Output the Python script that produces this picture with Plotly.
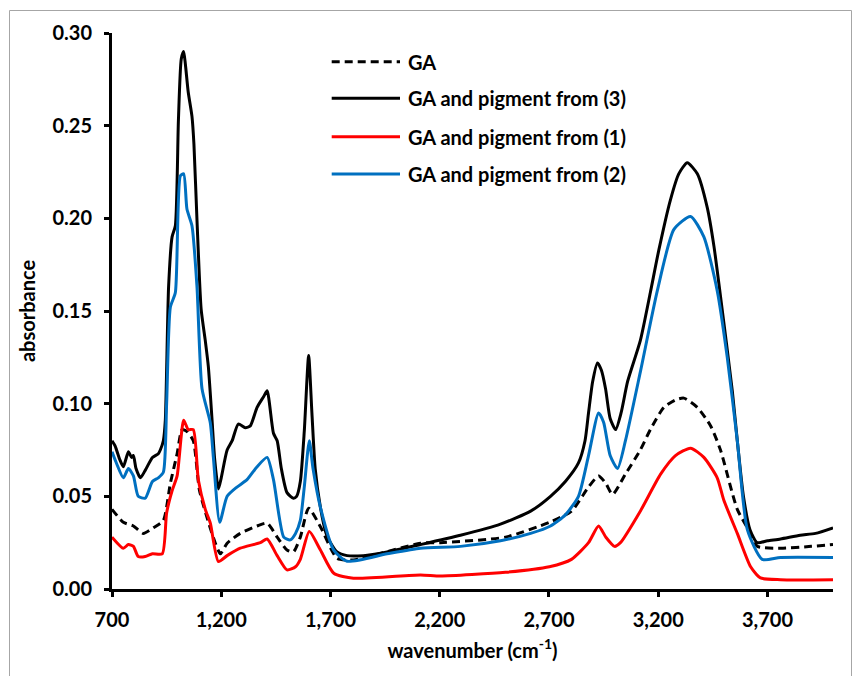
import plotly.graph_objects as go

# ---- data (wavenumber in cm-1, absorbance) ----
ga_x = [700, 752, 798, 843, 889, 935, 967, 998, 1021, 1043, 1072, 1100, 1139, 1173, 1196,
        1227, 1287, 1364, 1410, 1456, 1501, 1530, 1562, 1600, 1654, 1730, 1805, 2112, 2203,
        2501, 2702, 2803, 2881, 2927, 2960, 2991, 3050, 3118, 3164, 3226, 3279, 3317, 3379,
        3440, 3485, 3562, 3623, 3653, 3760, 3900, 4000]
ga_y = [0.043, 0.036, 0.034, 0.030, 0.033, 0.037, 0.057, 0.073, 0.086, 0.085, 0.080, 0.0535,
        0.037, 0.0247, 0.019, 0.0247, 0.030, 0.034, 0.0355, 0.028, 0.021, 0.020, 0.028, 0.0436,
        0.0336, 0.0166, 0.0157, 0.0247, 0.025, 0.028, 0.036, 0.042, 0.055, 0.061, 0.057, 0.051,
        0.062, 0.075, 0.086, 0.098, 0.102, 0.103, 0.098, 0.088, 0.075, 0.043, 0.030, 0.023,
        0.022, 0.023, 0.024]

p3_x = [700, 715, 735, 752, 775, 790, 798, 810, 830, 852, 885, 912, 921, 935, 944, 959, 975,
        990, 1004, 1017, 1028, 1036, 1049, 1066, 1075, 1089, 1108, 1127, 1141, 1158, 1170,
        1187, 1200, 1227, 1250, 1278, 1310, 1333, 1364, 1395, 1410, 1439, 1456, 1475, 1501,
        1530, 1545, 1562, 1580, 1600, 1615, 1630, 1654, 1680, 1700, 1730, 1776, 1850, 1959,
        2112, 2295, 2478, 2616, 2707, 2775, 2835, 2865, 2881, 2900, 2922, 2940, 2959, 2980,
        3005, 3030, 3060, 3118, 3164, 3203, 3256, 3294, 3333, 3379, 3424, 3455, 3485, 3539,
        3562, 3590, 3620, 3653, 3700, 3760, 3850, 3920, 4000]
p3_y = [0.080, 0.077, 0.070, 0.066, 0.074, 0.071, 0.072, 0.065, 0.060, 0.064, 0.071, 0.073,
        0.075, 0.080, 0.091, 0.163, 0.190, 0.196, 0.253, 0.286, 0.290, 0.283, 0.268, 0.255,
        0.240, 0.199, 0.151, 0.134, 0.120, 0.091, 0.070, 0.054, 0.060, 0.075, 0.080, 0.089,
        0.087, 0.088, 0.098, 0.104, 0.107, 0.084, 0.080, 0.065, 0.052, 0.049, 0.050, 0.058,
        0.085, 0.126, 0.095, 0.065, 0.044, 0.030, 0.025, 0.020, 0.018, 0.018, 0.020, 0.024,
        0.029, 0.035, 0.042, 0.050, 0.058, 0.068, 0.080, 0.095, 0.112, 0.122, 0.118, 0.108,
        0.092, 0.086, 0.095, 0.112, 0.134, 0.160, 0.183, 0.210, 0.224, 0.230, 0.224, 0.206,
        0.185, 0.158, 0.107, 0.080, 0.050, 0.032, 0.025, 0.026, 0.027, 0.029, 0.030, 0.033]

p1_x = [700, 752, 775, 798, 820, 852, 885, 930, 950, 975, 998, 1028, 1049, 1072, 1095, 1127,
        1150, 1187, 1227, 1287, 1379, 1410, 1456, 1501, 1540, 1562, 1603, 1654, 1715, 1805,
        2112, 2203, 2501, 2702, 2803, 2881, 2927, 2960, 3000, 3027, 3118, 3211, 3279, 3348,
        3409, 3470, 3500, 3562, 3623, 3668, 3760, 4000]
p1_y = [0.028, 0.022, 0.024, 0.023, 0.0175, 0.0175, 0.019, 0.019, 0.041, 0.053, 0.061, 0.091,
        0.086, 0.086, 0.059, 0.043, 0.0355, 0.0148, 0.018, 0.022, 0.025, 0.027, 0.018, 0.0103,
        0.012, 0.016, 0.031, 0.021, 0.0085, 0.0058, 0.0076, 0.007, 0.009, 0.012, 0.016, 0.025,
        0.034, 0.028, 0.023, 0.025, 0.042, 0.062, 0.072, 0.076, 0.071, 0.060, 0.048, 0.030,
        0.012, 0.006, 0.005, 0.005]

p2_x = [700, 720, 752, 775, 798, 820, 852, 885, 912, 935, 950, 967, 990, 1013, 1028, 1043,
        1066, 1089, 1112, 1150, 1164, 1193, 1227, 1272, 1318, 1364, 1410, 1439, 1486, 1516,
        1540, 1562, 1580, 1603, 1620, 1654, 1715, 1776, 1959, 2112, 2295, 2478, 2616, 2707,
        2775, 2835, 2881, 2927, 2950, 2980, 3014, 3050, 3118, 3196, 3272, 3348, 3409, 3470,
        3516, 3562, 3608, 3676, 3760, 4000]
p2_y = [0.074, 0.068, 0.060, 0.065, 0.061, 0.050, 0.049, 0.058, 0.060, 0.063, 0.100, 0.152,
        0.160, 0.223, 0.224, 0.205, 0.196, 0.163, 0.108, 0.0896, 0.071, 0.036, 0.050, 0.055,
        0.059, 0.066, 0.071, 0.059, 0.028, 0.0265, 0.030, 0.037, 0.055, 0.080, 0.065, 0.044,
        0.021, 0.015, 0.019, 0.022, 0.023, 0.026, 0.030, 0.034, 0.040, 0.050, 0.072, 0.095,
        0.090, 0.072, 0.065, 0.080, 0.117, 0.161, 0.194, 0.201, 0.190, 0.161, 0.125, 0.080,
        0.032, 0.016, 0.017, 0.017]

series_names = ["GA", "GA and pigment from (3)", "GA and pigment from (1)", "GA and pigment from (2)"]
series_x = [ga_x, p3_x, p1_x, p2_x]
series_y = [ga_y, p3_y, p1_y, p2_y]
series_colors = ["#000000", "#000000", "#FF0000", "#0070C0"]
series_dash = ["8px,5px", "solid", "solid", "solid"]

x_ticks = [700, 1200, 1700, 2200, 2700, 3200, 3700]
x_tick_text = ["700", "1,200", "1,700", "2,200", "2,700", "3,200", "3,700"]
y_ticks = [0.00, 0.05, 0.10, 0.15, 0.20, 0.25, 0.30]

W, H = 862, 676
L, R, T, B = 112, 29, 33, 87
FONT = dict(family="Lato", size=20, color="black", weight="bold")

fig = go.Figure()
for name, xs, ys, c, d in zip(series_names, series_x, series_y, series_colors, series_dash):
    fig.add_trace(go.Scatter(x=xs, y=ys, name=name, mode="lines",
                             line=dict(color=c, width=3, dash=d, shape="spline", smoothing=0.6),
                             showlegend=False))

pw, ph = W - L - R, H - T - B
def px2paper(px, py):
    return (px - L) / pw, (H - B - py) / ph

# manual legend (long line samples like the original)
leg_rows = [61.7, 98.3, 136.7, 174.0]
for name, c, d, row in zip(series_names, series_colors, series_dash, leg_rows):
    x0, yy = px2paper(331.7, row)
    x1, _ = px2paper(400, row)
    fig.add_shape(type="line", xref="paper", yref="paper", x0=x0, x1=x1, y0=yy, y1=yy,
                  line=dict(color=c, width=3, dash=d))
    xt, _ = px2paper(406, row)
    fig.add_annotation(text=name, xref="paper", yref="paper", x=xt, y=yy,
                       xanchor="left", yanchor="middle", showarrow=False, font=FONT)

# outer chart border
bx0, by0 = px2paper(9.5, 10.5)
bx1, by1 = px2paper(851.5, 690)
fig.add_shape(type="rect", xref="paper", yref="paper", x0=bx0, y0=by1, x1=bx1, y1=by0,
              line=dict(color="#A6A6A6", width=1), layer="below")

fig.update_layout(
    width=W, height=H, margin=dict(l=L, r=R, t=T, b=B),
    paper_bgcolor="white", plot_bgcolor="white",
    font=FONT, showlegend=False,
)
fig.update_xaxes(range=[700, 4000], tickvals=x_ticks, ticktext=x_tick_text,
                 showgrid=False, zeroline=False, showline=True, linecolor="black", linewidth=3,
                 ticks="outside", ticklen=5, tickwidth=3, tickcolor="black",
                 ticklabelstandoff=6, tickfont=FONT,
                 title=dict(text="wavenumber (cm<sup>-1</sup>)", font=FONT, standoff=14))
fig.update_yaxes(range=[0, 0.30], tickvals=y_ticks, tickformat=".2f",
                 showgrid=False, zeroline=False, showline=True, linecolor="black", linewidth=3,
                 ticks="outside", ticklen=5, tickwidth=3, tickcolor="black",
                 ticklabelstandoff=8, tickfont=FONT,
                 title=dict(text="absorbance", font=FONT, standoff=12))

fig.write_html("out.html")
